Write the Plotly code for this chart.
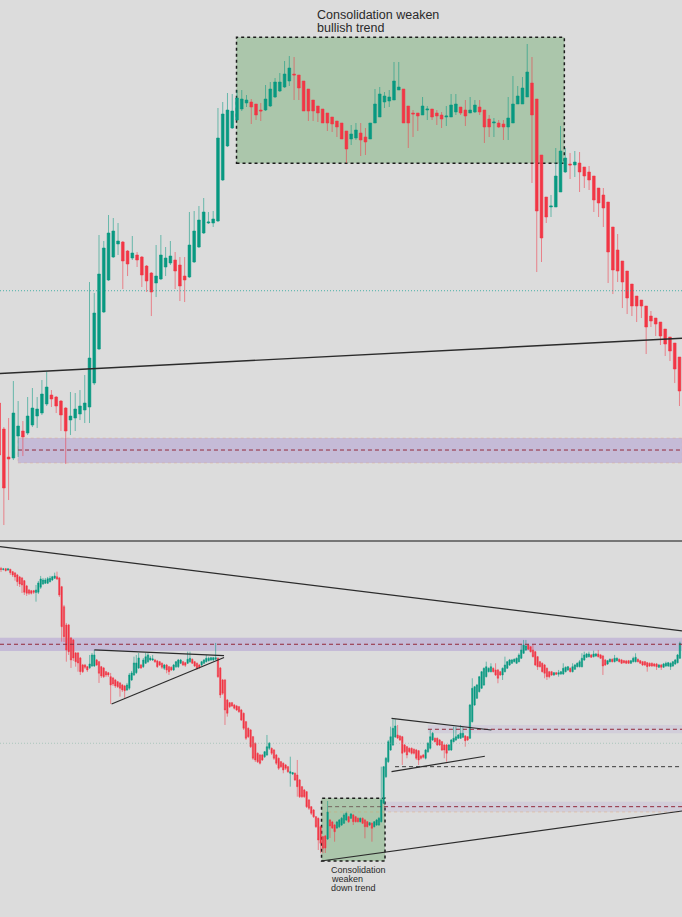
import plotly.graph_objects as go

# ---------------- top panel candles (arbitrary price units) ----------------
top_open = [597,571,543,542,564,569,567,575,584,587,596,605,603,599,592,580,582,586,590,593,
            617,651,688,720,743,756,758,749,742,745,743,734,727,717,721,733,737,740,735,724,
            723,738,753,767,777,777,779,820,854,872,880,891,897,898,896,890,890,894,903,909,
            913,919,926,925,919,911,900,894,891,887,883,879,877,869,861,862,867,863,861,877,
            883,898,899,900,910,911,894,887,887,885,890,891,887,885,883,883,888,893,890,887,
            888,893,890,881,877,877,876,873,877,896,896,903,917,901,845,803,793,793,808,828,
            836,835,837,833,828,824,812,805,798,773,750,739,729,716,704,700,694,684,682,678,
            671,663,657,643]
top_close = [545,512,541,587,574,563,584,592,591,606,613,601,594,585,569,584,591,594,597,642,
             687,726,752,767,769,759,739,736,747,740,725,719,708,724,745,742,744,729,714,720,
             755,769,780,788,778,781,862,886,890,889,902,901,900,893,885,889,901,911,918,918,
             926,932,925,912,889,889,889,887,877,877,876,873,861,851,866,870,860,858,877,896,
             906,904,903,919,913,877,877,886,884,894,891,883,884,881,884,895,896,887,884,890,
             895,888,873,873,878,873,873,882,896,904,912,928,885,789,762,783,794,824,849,842,
             835,838,828,824,820,800,797,792,748,730,729,718,702,694,694,694,673,679,676,664,
             656,649,631,609]
top_high = [602,573,582,619,599,579,603,612,603,620,628,610,604,600,593,608,607,610,625,718,
            707,765,759,785,782,777,759,750,764,748,744,735,728,755,765,753,759,748,743,743,
            788,789,794,802,788,789,892,898,907,906,910,910,905,901,896,897,915,918,922,927,
            939,944,943,925,919,911,900,894,891,887,883,879,877,869,875,877,877,872,877,911,
            913,908,910,938,938,911,894,890,887,903,894,891,890,888,894,906,906,893,900,903,
            900,900,890,885,882,880,880,903,924,914,923,956,943,901,845,803,805,852,874,852,
            847,849,848,833,834,824,812,812,798,773,766,739,729,716,704,700,694,689,682,678,
            671,663,657,643]
top_low = [542,475,500,540,543,544,565,573,572,585,594,593,587,569,536,565,569,580,577,577,
           615,650,687,719,742,745,711,724,740,733,713,708,684,703,720,724,735,711,699,698,
           722,737,752,766,776,773,778,819,853,871,879,889,893,876,880,879,889,893,902,908,
           912,914,900,900,889,879,879,878,877,869,868,863,861,837,855,860,844,845,861,877,
           883,892,893,900,910,877,852,863,869,885,880,880,875,872,874,883,885,885,874,887,
           887,885,857,863,863,872,860,860,877,896,896,903,817,728,738,777,783,793,808,827,
           821,823,808,812,810,788,783,773,717,706,718,692,686,684,678,682,646,673,664,655,
           644,639,617,594]

# ---------------- bottom panel candles (arbitrary price units) ----------------
bot_open = [431.5,430.5,431.3,430,430.7,428.3,427,425,423,422,419.3,414,410,409.3,409.3,407.5,407.7,412.7,416,416.7,
            416.7,418.3,420,421.7,423.3,422,413.3,393.3,375,375,362,360,347,347,342,335,335,333.3,332.3,334,
            334,340,338.3,333.3,332,328.3,327.3,323.3,322,320,318.3,317,315,314,310,311.7,320,325,327.3,332,
            335,333.3,336.7,338.3,340,340,340,339,338.3,336.7,331.7,335,333.3,332.7,330,333.3,333.3,336.7,338.3,337.3,
            336.7,338.3,340.7,338.3,336.7,335,335,336.7,338.3,339.3,340,340,340.7,341.7,332,320,320,300,297.3,297.3,
            295,294,293.3,290,286.7,278.3,271.7,270,263.3,256.7,246.7,245,245,243.3,245,251.7,251.7,250,245,241.7,
            238.3,236.7,235,233.3,226.7,226,226.7,225,220,213.3,210,208.3,200,193.3,190,183.3,181.7,173.3,163.3,164,
            161,180,178,175,172,173.3,175,176.7,180,183.3,181.7,185,183.3,181.7,178.3,181.7,180,178.3,175,176.7,
            173.3,175,175,178.3,196.7,223.3,238.3,250,255,263,265,264,263.3,255,253.3,251.7,251.7,250.7,250,249.3,
            244,245,241.7,248.3,251.7,260,261.7,261.7,260,258.3,255,255,250,250,258.3,260,261.7,261.7,262.7,264,
            263.3,261.7,278.3,295,301.7,308.3,311.7,315,323.3,328.3,328.3,331.7,330,330,328.3,325,328.3,331.7,335,336.7,
            338.3,336.7,338.3,341.7,346.7,350,355,353.3,350,348.3,343.3,338.3,336.7,335,331.7,328.3,328.3,325,327.3,325.7,
            326,326,328.3,330,331.7,328.3,330.7,333.3,333.3,333.3,340,342.7,343.3,345,343.3,344,346,345,344,340,
            336,338.3,340.7,338.3,339.3,340.7,340,339.3,339,339.3,336.7,338.3,338.3,340.7,339.3,338.3,338.3,337.3,336.7,336.7,
            336,336,332.7,335,332.7,334,334,333.3,334,336,337.3,341.7]
bot_close = [430.5,431,429.3,431,427.3,425,423,418.3,416,415,407.7,406.7,406.7,406.7,407.7,410,417,421,420,420,
             421.3,421.7,423.3,424,421,405,373.3,363.3,350,348.3,340,342,338.3,337,328.3,328.3,332.7,330,336,345,
             345,335,326.7,324,323.3,325,325,315,316,314,313.3,311.7,310,309.3,315,325,327,337,337,342,
             332,340,343.3,345,342,341,338.3,333.3,335,332.7,335,330,328.3,330,335,338.3,340,340,335,334.7,
             340.7,341.7,336.7,334,331.7,332.7,338.3,340,341.7,341.7,342.3,342.3,342.3,323.3,305,306.7,290,286.7,293.3,294,
             291.7,290,288.3,280,271.7,261.7,263.3,253.3,241.7,240,238.3,236.7,240,248.3,253.3,256.7,246.7,241.7,236.7,231.7,
             233.3,230,231.7,228.3,228.3,227.3,220,213.3,203.3,203.3,203.3,193.3,191.7,186.7,183.3,173.3,160,156.7,151.7,152,
             188,174,172,168.3,178,180,181.7,185,186.7,178.3,186,178.3,178.3,178.3,181.7,176.7,173.3,173.3,177.3,171.7,
             178.3,180,181.7,200,233.3,241.7,258.3,263.3,271.7,274,262,260,246.7,248.3,245,248.3,246.7,246.7,241.7,240,
             241.7,242.7,250,256.7,263.3,266.7,258.3,255,255,250,250,246.7,255,260,261.7,263.3,265,266.7,266.7,259.3,
             260,295,311.7,313.3,315,323.3,328.3,331.7,333.3,331.7,333.3,328.3,325,321.7,325,331.7,335,338.3,340,340,
             340.7,341.7,345,350,355,354,350.7,348.3,343.3,335,333.3,333.3,328.3,326.7,323.3,323.3,325,327.3,325.7,327.3,
             328.3,331.7,332.7,333.3,328.3,333.3,335,336.7,338.3,341.7,345,346,346,342.7,346,346,343.3,341.7,334,335,
             339.3,340.7,338.3,341.7,341.7,338.3,336.7,337.3,336.7,336.7,339.3,341.7,342.7,338.3,336.7,335,335,333.3,334,334,
             334,333.3,335,332.7,336,336.7,337.3,336.7,338.3,340,345,356.7]
bot_high = [433,432,432,432,431,429,428,426,424,423,420,415,411,410,410,415,419,424,422,422,
            423,424,424,427.3,428.3,423,414,395,377,376,363,361,348,348,343,336,336,334,345,347,
            350,341,339,334,333,329,328,327,323,321,319,318,316,315,317,327,329,343.3,345,347,
            336,342,347,347,344,345,341,340,339,337.5,336,336,334,333.5,336,339,341,341,339,338,
            348.3,348.3,341.5,339,337.5,336,339,341,345,343.3,343,343,357,342.5,333,321,321,301,298,298,
            296,295,294,291,287.5,279,272.5,271,264,257.5,247.5,246,246,249,265,258,252.5,251,246,242.5,
            239,237.5,236,234,243.3,228,227.5,240,221,214,211,209,201,194,191,184,182.5,174,164,165,
            199,181,179,176,179,181,183,186.7,188.3,184,187,186,184,182.5,182.5,182.5,181,179,178,177.5,
            179,181,183,233.3,234,243,260,273.3,280.7,280.7,275,265,264,256,254,252.5,252.5,251.5,251,250,
            245,246,251,258,270,268,262.5,262.5,261,259,256,256,256,261,273.3,273.3,266,275,273.3,265,
            264,296,321.7,314,316,324,329,332.5,338.3,332.5,336.7,332.5,336.7,331,329,332.5,343.3,339,341,341,
            341.5,342.5,346.7,355,360,360,356,354,355,349,344,339,337.5,336,332.5,329,329,328,328,330,
            329,336.7,333.5,334,332.5,336.7,336,337.5,340,346.7,348.3,347,348.3,346,349.3,347,350,346,345,341,
            340,341.5,341.5,345,342.5,341.5,341,340,340,340,340,343.3,346.7,341.5,340,339,339,338,337.5,337.5,
            337,337,336,336,337,338.3,338,337.5,339,341,346,358.3]
bot_low = [428,429.5,428.5,429,425,423,419.3,414,413,407,405,404,405,405.5,406,398.3,406,411,415,416,
           416,417.5,419,421,420,403,358.3,358,338.3,345,332,339,333.3,328.3,325,327,331,328,331,333,
           333,334,317,322,322,323,323,296,314,312,312,303.3,308,302,309,310,319,324,326,331,
           331,332,336,337,339,339,337,332,334,331,330,326.7,325,329,329,332,332,336,334,333,
           336,337,336,333,330,331,334,336,337.5,338.5,339,339,340,322,302,305,275,283.3,292,293,
           290.5,289,287,279,270,260,262,252,240,238,237,235.5,239,242,244,250,245,240,235,230,
           232,226.7,230,227,213.3,225,219,203.3,202,202,202,192,190,185,182,172,150,146.7,146.7,147,
           160,162,171,158.3,171,172,174,176,179,177,181,175,177.5,177.5,177.5,176,161.7,172.5,174,158.3,
           172.5,174,174,177.5,196,222,237,249,254,262,261,259,235,247,241.7,247,245.5,245.5,240,235,
           240.5,241.5,240.5,247,250.5,259,257.5,254,254,249,241.7,238.3,249,249,257.5,259,261,261,262,253.3,
           259,261,277.5,294,301,307.5,311,314,322.5,327.5,327.5,327.5,324,316.7,324,320,327.5,331,334,336,
           337.5,336,337.5,341,346,349,350,347.5,342.5,334,330,332.5,327.5,321.7,320,321.7,324,324,325,323.3,
           325,325,327.5,329,327.5,327.5,330,332.5,332.5,332.5,339,342,342.5,342,342.5,343,342.5,341,325,334,
           335,337.5,337.5,337.5,338.5,337.5,336,336.5,336,336,336,337.5,337.5,337.5,336,334,334,328.3,333,333,
           333,330,332,330,332,333,333,330,333,335,336.5,341]

top_x = list(range(len(top_open)))
bot_x = list(range(len(bot_open)))

UP = "#089981"
DOWN = "#f23645"
UP_WICK = "rgba(8,153,129,0.55)"
DOWN_WICK = "rgba(242,54,69,0.55)"
BG = "#dcdcdc"

fig = go.Figure()
fig.add_trace(go.Candlestick(
    x=top_x, open=top_open, high=top_high, low=top_low, close=top_close,
    xaxis="x", yaxis="y",
    increasing=dict(line=dict(color=UP_WICK, width=1), fillcolor=UP),
    decreasing=dict(line=dict(color=DOWN_WICK, width=1), fillcolor=DOWN),
    whiskerwidth=0, showlegend=False, hoverinfo="skip"))
fig.add_trace(go.Candlestick(
    x=bot_x, open=bot_open, high=bot_high, low=bot_low, close=bot_close,
    xaxis="x2", yaxis="y2",
    increasing=dict(line=dict(color=UP_WICK, width=1), fillcolor=UP),
    decreasing=dict(line=dict(color=DOWN_WICK, width=1), fillcolor=DOWN),
    whiskerwidth=0, showlegend=False, hoverinfo="skip"))

ax_common = dict(showticklabels=False, showgrid=False, zeroline=False, showline=False,
                 ticks="", rangeslider=dict(visible=False), fixedrange=True)
yax_common = dict(showticklabels=False, showgrid=False, zeroline=False, showline=False, ticks="")

fig.update_layout(
    width=682, height=917, margin=dict(l=0, r=0, t=0, b=0),
    paper_bgcolor=BG, plot_bgcolor=BG, boxgap=0.18,
    xaxis=dict(domain=[0, 1], anchor="y", range=[0.19, 143.53], **ax_common),
    yaxis=dict(domain=[0.41, 1], anchor="x", range=[459, 1000], **yax_common),
    xaxis2=dict(domain=[0, 1], anchor="y2", range=[-0.43, 291.9], **ax_common),
    yaxis2=dict(domain=[0, 0.409], anchor="x2", range=[83, 458], **yax_common),
)

shapes = []
PURPLE = "rgba(149,117,205,0.32)"
PURPLE_LIGHT = "rgba(149,117,205,0.14)"
BOXFILL = "rgba(110,170,110,0.45)"
DASHRED = "#93293a"
DASH = "4px,3px"

# ---- top panel ----
shapes.append(dict(type="rect", xref="x", yref="y", x0=49.9, x1=118.8, y0=836.7, y1=962.7,
                   fillcolor=BOXFILL, line=dict(color="#1b1b1b", width=1.5, dash="dot"), layer="below"))
shapes.append(dict(type="rect", xref="x", yref="y", x0=3.97, x1=143.6, y0=537, y1=562,
                   fillcolor=PURPLE, line=dict(color="rgba(230,160,120,0.35)", width=1, dash="dot"), layer="below"))
shapes.append(dict(type="line", xref="x", yref="y", x0=3.97, x1=143.6, y0=550, y1=550,
                   line=dict(color=DASHRED, width=1, dash=DASH)))
shapes.append(dict(type="line", xref="x domain", yref="y", x0=0, x1=1, y0=709.3, y1=709.3,
                   line=dict(color="rgba(38,166,154,0.8)", width=1, dash="1px,2px")))
shapes.append(dict(type="line", xref="x domain", yref="y", x0=0, x1=1, y0=626.5, y1=661.7,
                   line=dict(color="#2b2b2b", width=1.4)))
# separator
shapes.append(dict(type="line", xref="paper", yref="paper", x0=0, x1=1, y0=0.41, y1=0.41,
                   line=dict(color="#555555", width=1.5)))

# ---- bottom panel ----
shapes.append(dict(type="rect", xref="x2", yref="y2", x0=137.4, x1=164.6, y0=139, y1=201.7,
                   fillcolor=BOXFILL, line=dict(color="#1b1b1b", width=1.5, dash="dot"), layer="below"))
shapes.append(dict(type="rect", xref="x2 domain", yref="y2", x0=0, x1=1, y0=349, y1=362.3,
                   fillcolor=PURPLE, line=dict(width=0), layer="below"))
shapes.append(dict(type="line", xref="x2 domain", yref="y2", x0=0, x1=1, y0=355.7, y1=355.7,
                   line=dict(color=DASHRED, width=1, dash=DASH)))
shapes.append(dict(type="rect", xref="x2", yref="y2", x0=183, x1=292.5, y0=266.7, y1=275,
                   fillcolor=PURPLE_LIGHT, line=dict(width=0), layer="below"))
shapes.append(dict(type="line", xref="x2", yref="y2", x0=183, x1=292.5, y0=270.7, y1=270.7,
                   line=dict(color=DASHRED, width=1, dash=DASH)))
shapes.append(dict(type="rect", xref="x2", yref="y2", x0=164.2, x1=292.5, y0=188.3, y1=198.3,
                   fillcolor=PURPLE_LIGHT, line=dict(width=0), layer="below"))
shapes.append(dict(type="line", xref="x2", yref="y2", x0=164.2, x1=292.5, y0=193.3, y1=193.3,
                   line=dict(color=DASHRED, width=1, dash=DASH)))
shapes.append(dict(type="line", xref="x2", yref="y2", x0=140.2, x1=164.2, y0=193.3, y1=193.3,
                   line=dict(color="rgba(90,60,60,0.7)", width=1, dash=DASH)))
shapes.append(dict(type="line", xref="x2", yref="y2", x0=140.2, x1=292.5, y0=188.0, y1=188.0,
                   line=dict(color="rgba(230,150,90,0.35)", width=1, dash="dot")))
shapes.append(dict(type="line", xref="x2 domain", yref="y2", x0=0, x1=1, y0=256.7, y1=256.7,
                   line=dict(color="rgba(110,170,150,0.45)", width=1, dash="1px,2px")))
shapes.append(dict(type="line", xref="x2", yref="y2", x0=168.9, x1=292.5, y0=233.3, y1=233.3,
                   line=dict(color="#3a3a3a", width=1, dash=DASH)))
# trend lines
shapes.append(dict(type="line", xref="x2 domain", yref="y2", x0=0, x1=1, y0=453.3, y1=369,
                   line=dict(color="#2b2b2b", width=1.2)))
shapes.append(dict(type="line", xref="x2", yref="y2", x0=40, x1=95.6, y0=350, y1=344.3,
                   line=dict(color="#2b2b2b", width=1.2)))
shapes.append(dict(type="line", xref="x2", yref="y2", x0=47.4, x1=95.6, y0=296, y1=342.5,
                   line=dict(color="#2b2b2b", width=1.2)))
shapes.append(dict(type="line", xref="x2", yref="y2", x0=167.4, x1=210.2, y0=281.5, y1=270,
                   line=dict(color="#2b2b2b", width=1.2)))
shapes.append(dict(type="line", xref="x2", yref="y2", x0=167.4, x1=207.4, y0=228.3, y1=243.7,
                   line=dict(color="#2b2b2b", width=1.2)))
shapes.append(dict(type="line", xref="x2", yref="y2", x0=137.2, x1=291.9, y0=139, y1=189,
                   line=dict(color="#2b2b2b", width=1.2)))

fig.update_layout(shapes=shapes)

TXT = "#2a2a2a"
FONT = "Liberation Sans"
anns = [
    dict(text="Consolidation weaken", x=66.4, y=994, xref="x", yref="y"),
    dict(text="bullish trend", x=66.4, y=981.5, xref="x", yref="y"),
]
for a in anns:
    fig.add_annotation(text=a["text"], x=a["x"], y=a["y"], xref=a["xref"], yref=a["yref"],
                       xanchor="left", yanchor="top", showarrow=False,
                       font=dict(family=FONT, size=12.5, color=TXT))
for i, t in enumerate(["Consolidation", "weaken", "down trend"]):
    fig.add_annotation(text=t, x=140.8, y=137 - 9 * i, xref="x2", yref="y2",
                       xanchor="left", yanchor="top", showarrow=False,
                       font=dict(family=FONT, size=9, color=TXT))

fig.write_html("out.html")
